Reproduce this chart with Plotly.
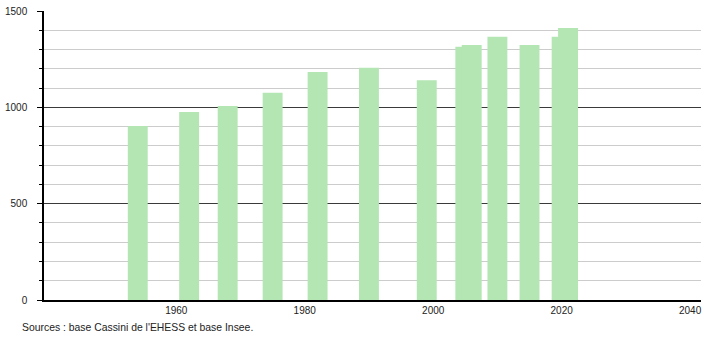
import plotly.graph_objects as go

# Population census years and counts
years = [1954, 1962, 1968, 1975, 1982, 1990, 1999, 2005, 2006, 2010, 2015, 2020, 2021]
population = [903, 976, 1007, 1076, 1184, 1205, 1141, 1314, 1323, 1366, 1323, 1366, 1412]

x_ticks = [1960, 1980, 2000, 2020, 2040]
y_ticks = [0, 500, 1000, 1500]
source_text = "Sources : base Cassini de l'EHESS et base Insee."

W, H = 710, 340
M_L, M_R, M_T, M_B = 44, 9, 11, 40

fig = go.Figure()
fig.add_trace(go.Bar(
    x=years,
    y=population,
    width=3.1,
    marker=dict(color="#b3e6b3", line=dict(width=0)),
    hoverinfo="x+y",
))

font_family = "Liberation Sans, Arial, sans-serif"

fig.update_layout(
    width=W, height=H,
    margin=dict(l=M_L, r=M_R, t=M_T, b=M_B, pad=0, autoexpand=False),
    paper_bgcolor="white",
    plot_bgcolor="white",
    barmode="overlay",
    showlegend=False,
    font=dict(family=font_family, size=10, color="#222"),
    xaxis=dict(
        range=[1939.4, 2041.7],
        tickmode="array",
        tickvals=x_ticks,
        ticktext=[str(v) for v in x_ticks],
        showgrid=False,
        zeroline=False,
        showline=True,
        linecolor="black",
        linewidth=1.5,
        ticks="",
        automargin=False,
        ticklabelstandoff=0,
        tickfont=dict(size=10, color="#222"),
    ),
    yaxis=dict(
        range=[0, 1500],
        tickmode="array",
        tickvals=y_ticks,
        ticktext=[str(v) for v in y_ticks],
        showgrid=True,
        gridcolor="#3a3a3a",
        gridwidth=1,
        zeroline=False,
        showline=True,
        linecolor="black",
        linewidth=1.5,
        ticks="outside",
        ticklen=5,
        tickcolor="black",
        automargin=False,
        ticklabelstandoff=8,
        tickfont=dict(size=10, color="#222"),
        minor=dict(
            dtick=100,
            tick0=0,
            ticks="outside",
            ticklen=3,
            tickcolor="black",
            showgrid=True,
            gridcolor="#cccccc",
            gridwidth=1,
        ),
    ),
    annotations=[dict(
        text=source_text,
        xref="paper", yref="paper",
        x=(20 - M_L) / (W - M_L - M_R),
        y=-(327 - (H - M_B)) / (H - M_T - M_B),
        xanchor="left", yanchor="middle",
        showarrow=False,
        font=dict(size=10.4, color="#222", family=font_family),
    )],
)

fig.write_html("out.html")
